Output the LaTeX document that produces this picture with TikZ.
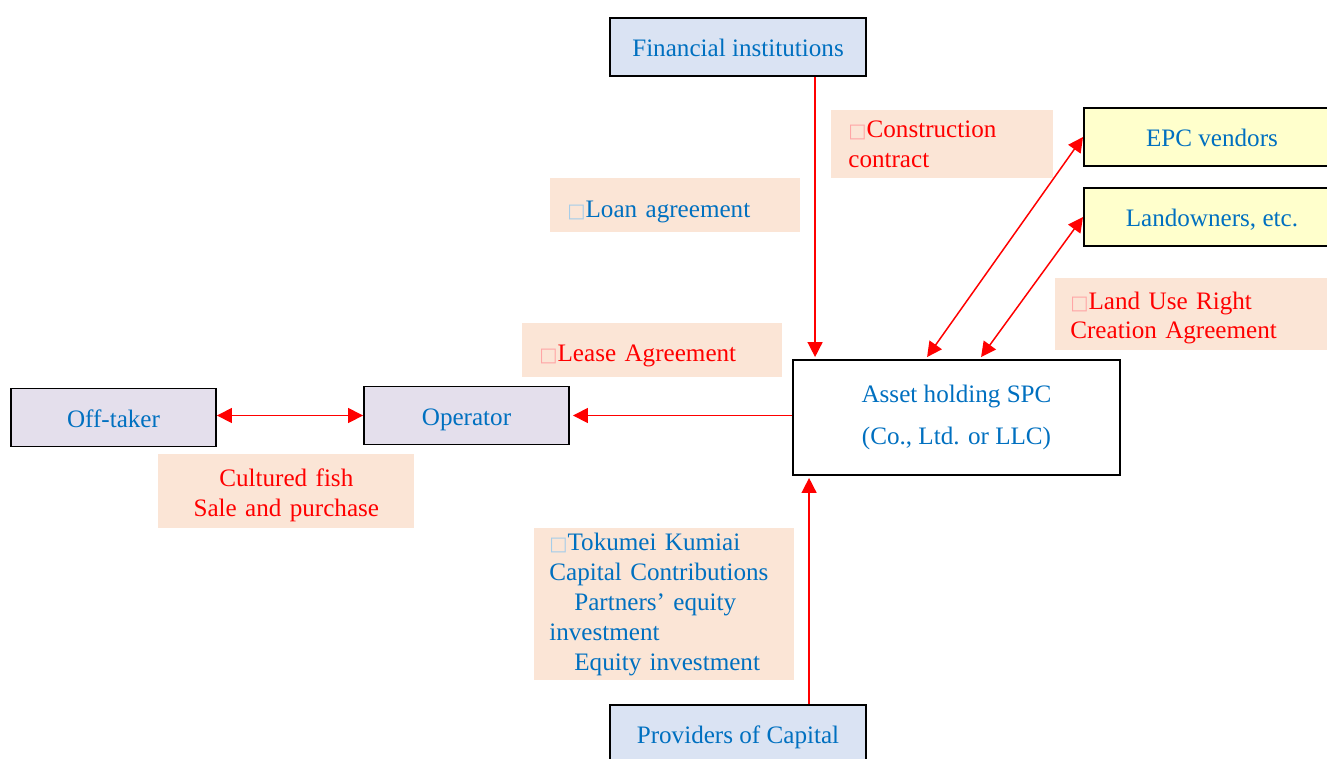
\documentclass[tikz,border=0pt]{standalone}
\usepackage{fontspec}
\setmainfont{Liberation Serif}
\newfontfamily\symfont{DejaVu Sans}
\usepackage{xcolor}
\usetikzlibrary{calc, arrows.meta}

\definecolor{txtblue}{HTML}{0070C0}
\definecolor{txtred}{HTML}{FF0000}
\definecolor{peach}{HTML}{FBE5D6}
\definecolor{boxblue}{HTML}{DAE3F3}
\definecolor{boxlilac}{HTML}{E4DFEC}
\definecolor{boxyellow}{HTML}{FFFFCC}

% missing-glyph box as printed in the source
\newcommand{\nobox}{{\symfont\fontsize{11}{11}\selectfont\color{.!35!white}\char"25A1}}

\tikzset{
	redtip/.tip={Triangle[length=8.5pt,width=8.5pt]},
	party/.style={draw=black, line width=1.1pt, text=txtblue,
		minimum width=5.12cm, minimum height=1.16cm, inner sep=0pt},
	oneline/.style={text height=14pt, text depth=3pt},
	note/.style={fill=peach, anchor=north west, align=left, inner ysep=0pt},
	conn/.style={draw=txtred, line width=0.85pt},
}

\begin{document}
\begin{tikzpicture}[x=0.02cm, y=-0.02cm, font=\fontsize{14.3}{17}\selectfont]
	\useasboundingbox (0,0) rectangle (1327,758);

	% contract notes
	\begin{scope}
		\node[note, text=txtred, inner xsep=0.34cm, text width=3.76cm, minimum height=1.36cm]
			(con) at (831,110) {\nobox Construction\\contract};
		\node[note, text=txtblue, inner xsep=0.34cm, minimum width=5cm, minimum height=1.08cm,
			text height=17pt, text depth=3pt, align=left, text width=4.32cm]
			(loan) at (550,178) {\nobox Loan agreement};
		\node[note, text=txtred, inner xsep=0.30cm, text width=4.84cm, minimum height=1.44cm]
			(landuse) at (1055,278) {\rule{0pt}{14pt}\nobox Land Use Right\\Creation Agreement};
		\node[note, text=txtred, inner xsep=0.34cm, minimum width=5.2cm, minimum height=1.08cm,
			text height=16pt, text depth=3pt, text width=4.52cm]
			(lease) at (522,323) {\nobox Lease Agreement};
		\node[note, text=txtred, align=center, inner xsep=0.34cm, text width=4.44cm, minimum height=1.48cm]
			(fish) at (158,454) {\rule{0pt}{14.5pt}Cultured fish\\Sale and purchase};
		\node[note, text=txtblue, inner xsep=0.30cm, text width=4.6cm, minimum height=3.04cm]
			(tk) at (534,528) {\nobox Tokumei Kumiai\\Capital Contributions\\
				\hspace*{0.5cm}Partners' equity\\investment\\\hspace*{0.5cm}Equity investment};
	\end{scope}

	% parties
	\begin{scope}
		\node[party, oneline, fill=boxblue] (fin) at (738,47) {Financial institutions};
		\node[party, oneline, fill=boxyellow, anchor=west] (epc) at (1083,137) {EPC vendors};
		\node[party, oneline, fill=boxyellow, anchor=west] (land) at (1083,217) {Landowners, etc.};
		\node[party, fill=white, minimum width=6.54cm, minimum height=2.3cm, align=center]
			(spc) at (956.5,417.5) {Asset holding SPC\\[7pt](Co., Ltd. or LLC)};
		\node[party, oneline, fill=boxlilac, minimum width=4.1cm] (op) at (466.5,415.5) {Operator};
		\node[party, oneline, fill=boxlilac, minimum width=4.1cm] (off) at (113.5,417.5) {Off-taker};
		\node[party, oneline, fill=boxblue] (cap) at (738,734) {Providers of Capital};
	\end{scope}

	\coordinate (finin) at ($ (spc.north west) + (23,-2) $);
	\coordinate (capin) at ($ (spc.south west) + (17,2) $);
	\coordinate (epcin) at ($ (spc.north west) + (135,-2) $);
	\coordinate (landin) at ($ (spc.north west) + (189,-2) $);

	\begin{scope}[conn]
		\draw[-redtip] (fin.south -| finin) -- (finin);
		\draw[-redtip] (cap.north -| capin) -- (capin);
		\draw[-redtip] (spc.west |- op.east) -- ($ (op.east) + (3,0) $);
		\draw[redtip-redtip] (off.east |- op.west) -- (op.west);
		\draw[redtip-redtip] (epcin) -- (epc.west);
		\draw[redtip-redtip] (landin) -- (land.west);
	\end{scope}
\end{tikzpicture}
\end{document}
